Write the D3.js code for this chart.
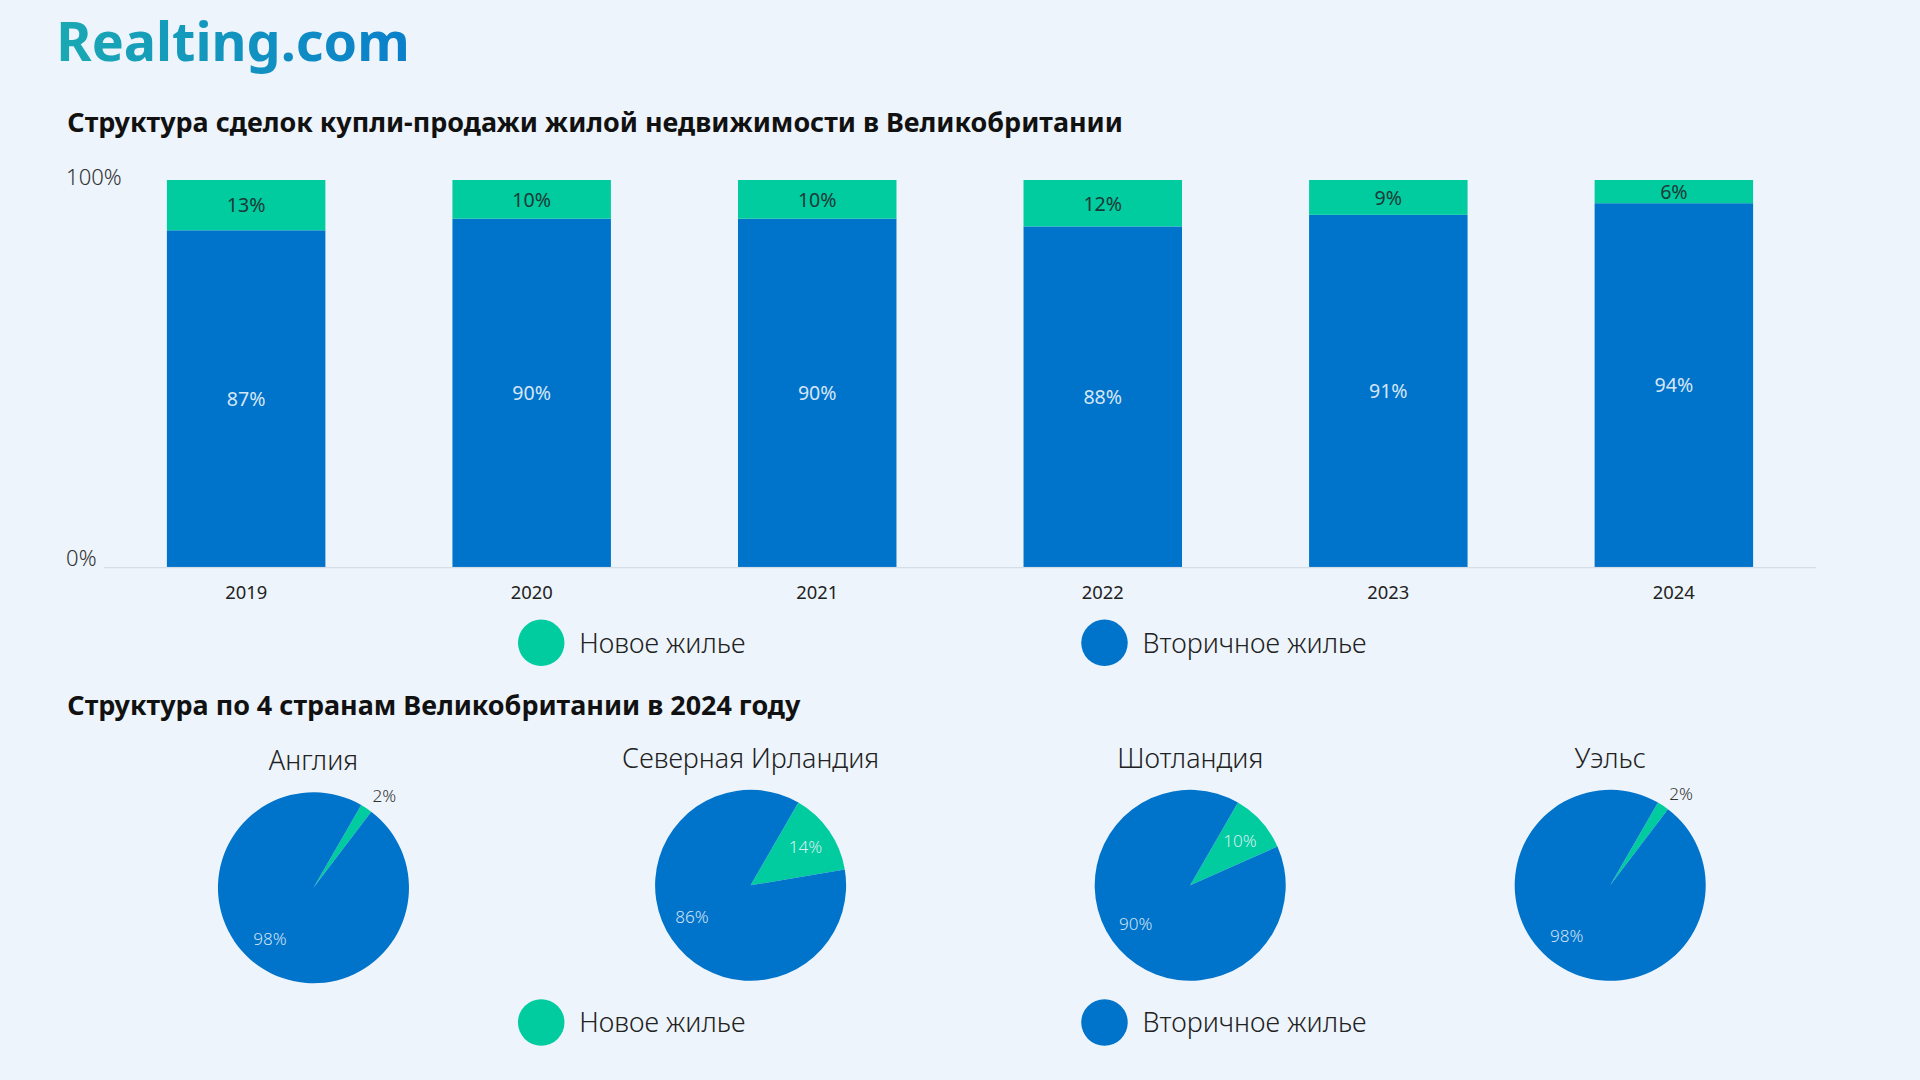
<!DOCTYPE html>
<html><head><meta charset="utf-8">
<script src="https://cdn.jsdelivr.net/npm/d3@7"></script>
<style>
body{margin:0;background:#edf4fb;}
svg{display:block;font-family:"Noto Sans",Lato,sans-serif;}
</style></head>
<body><div id="wrapper"></div>
<script>
// data
const years = ['2019','2020','2021','2022','2023','2024'];
const newShare = [13,10,10,12,9,6];
const secShare = [87,90,90,88,91,94];
const countries = ['Англия','Северная Ирландия','Шотландия','Уэльс'];
const countryNew = [2,14,10,2];
const countrySec = [98,86,90,98];
const seriesNames = ['Новое жилье','Вторичное жилье'];

const colNew = '#00cc9f', colSec = '#0073cb';

// drawn in 1568x882 space, scaled up to 1920x1080
let svg = d3.select('#wrapper').append('svg')
  .attr('width',1920).attr('height',1080)
  .attr('viewBox','0 0 1568 882');

let grad = svg.append('defs').append('linearGradient').attr('id','logo');
grad.append('stop').attr('offset','0%').attr('stop-color','#1aa9b3');
grad.append('stop').attr('offset','100%').attr('stop-color','#0a7fcb');

svg.append('text').text('Realting.com').attr('x',46).attr('y',50)
  .attr('font-size',44).attr('font-weight',700).attr('fill','url(#logo)');

svg.append('text').text('Структура сделок купли-продажи жилой недвижимости в Великобритании')
  .attr('x',55).attr('y',108).attr('font-size',22).attr('font-weight',700).attr('fill','#111');

// bar chart
let x = d3.scaleBand().domain(years).range([85,1483]).paddingInner(0.445).paddingOuter(0.22);
let y = d3.scaleLinear().domain([0,100]).range([463,147]);

svg.append('line').attr('x1',85).attr('x2',1483).attr('y1',y(0)+0.5).attr('y2',y(0)+0.5)
  .attr('stroke','#d5dde6');
svg.append('text').text('100%').attr('x',54).attr('y',y(100)+4).attr('font-size',18).attr('fill','#333').attr('font-weight',300);
svg.append('text').text('0%').attr('x',54).attr('y',y(0)-1).attr('font-size',18).attr('fill','#333').attr('font-weight',300);

let bars = svg.append('g').selectAll('g').data(years).enter().append('g');
bars.append('rect').attr('x',d=>x(d)).attr('width',x.bandwidth())
  .attr('y',(d,i)=>y(secShare[i])).attr('height',(d,i)=>y(0)-y(secShare[i])).attr('fill',colSec);
bars.append('rect').attr('x',d=>x(d)).attr('width',x.bandwidth())
  .attr('y',y(100)).attr('height',(d,i)=>y(secShare[i])-y(100)).attr('fill',colNew);
bars.append('text').text((d,i)=>secShare[i]+'%').attr('x',d=>x(d)+x.bandwidth()/2)
  .attr('y',(d,i)=>(y(secShare[i])+y(0))/2+6).attr('text-anchor','middle')
  .attr('font-size',16).attr('fill','#d6e6f5');
bars.append('text').text((d,i)=>newShare[i]+'%').attr('x',d=>x(d)+x.bandwidth()/2)
  .attr('y',(d,i)=>(y(secShare[i])+y(100))/2+6).attr('text-anchor','middle')
  .attr('font-size',16).attr('fill','#1c3a38');
bars.append('text').text(d=>d).attr('x',d=>x(d)+x.bandwidth()/2).attr('y',489)
  .attr('text-anchor','middle').attr('font-size',15).attr('fill','#222');

function legend(cy){
  let g = svg.append('g');
  [[442,colNew],[902,colSec]].forEach((p,i)=>{
    g.append('circle').attr('cx',p[0]).attr('cy',cy).attr('r',19).attr('fill',p[1]);
    g.append('text').text(seriesNames[i]).attr('x',p[0]+31).attr('y',cy+8)
      .attr('font-size',22).attr('fill','#222').attr('font-weight',300);
  });
}
legend(525);

svg.append('text').text('Структура по 4 странам Великобритании в 2024 году')
  .attr('x',55).attr('y',584).attr('font-size',22).attr('font-weight',700).attr('fill','#111');

// pies
const centers = [[256,725],[613,723],[972,723],[1315,723]];
const r = 78;
let arc = d3.arc().innerRadius(0).outerRadius(r);
let pie = d3.pie().sort(null).startAngle(Math.PI/6).endAngle(Math.PI/6+2*Math.PI);

countries.forEach((c,i)=>{
  let g = svg.append('g').attr('transform','translate('+centers[i][0]+','+centers[i][1]+')');
  g.append('text').text(c).attr('x',0).attr('y',-96).attr('text-anchor','middle')
    .attr('font-size',22).attr('fill','#222').attr('font-weight',300);
  let arcs = pie([countryNew[i],countrySec[i]]);
  g.selectAll('path').data(arcs).enter().append('path').attr('d',arc)
    .attr('fill',(d,j)=>j==0?colNew:colSec);
  // labels
  let a0 = arcs[0], mid = (a0.startAngle+a0.endAngle)/2;
  let small = countryNew[i] < 5;
  let lr = small ? r+12 : r*0.7;
  g.append('text').text(countryNew[i]+'%')
    .attr('x',Math.sin(mid)*lr + (small?8:0)).attr('y',-Math.cos(mid)*lr+5)
    .attr('text-anchor','middle').attr('font-size',14)
    .attr('fill',small?'#333':'#d6eef0').attr('font-weight',300);
  let a1 = arcs[1], mid1 = a1.startAngle + (a1.endAngle-a1.startAngle)*0.52;
  g.append('text').text(countrySec[i]+'%')
    .attr('x',Math.sin(mid1)*r*0.7).attr('y',-Math.cos(mid1)*r*0.7+5)
    .attr('text-anchor','middle').attr('font-size',14).attr('fill','#cfe2f3').attr('font-weight',300);
});

legend(835);
</script></body></html>
